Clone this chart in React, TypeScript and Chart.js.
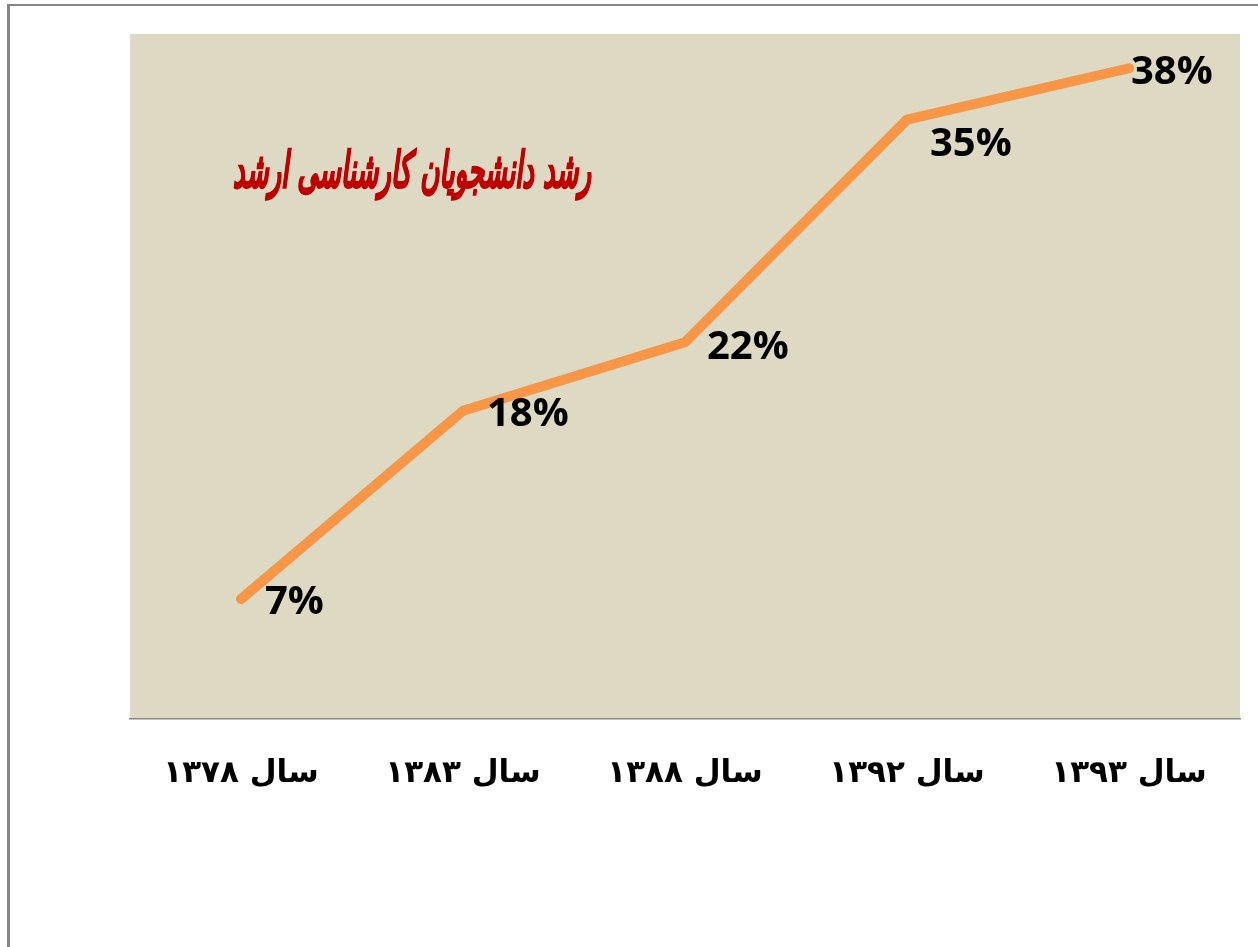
import React, { useEffect, useRef } from "react";
import { Chart, registerables } from "chart.js";

Chart.register(...registerables);

const categories = ["سال ۱۳۷۸", "سال ۱۳۸۳", "سال ۱۳۸۸", "سال ۱۳۹۲", "سال ۱۳۹۳"];
const values = [7, 18, 22, 35, 38];
const valueLabels = ["7%", "18%", "22%", "35%", "38%"];
const labelOffsets = [
  [24, 1],
  [24, 1],
  [22, 3],
  [23, 22],
  [2, 2],
];
const chartTitle = "رشد دانشجویان کارشناسی ارشد";

const bgPlugin = {
  id: "plotBg",
  beforeDraw(chart: any) {
    const { ctx, chartArea } = chart;
    ctx.save();
    ctx.fillStyle = "#DDD9C3";
    ctx.fillRect(chartArea.left, chartArea.top, chartArea.right - chartArea.left, chartArea.bottom - chartArea.top);
    ctx.restore();
  },
};

const labelsPlugin = {
  id: "valueLabels",
  afterDatasetsDraw(chart: any) {
    const { ctx, chartArea } = chart;
    const meta = chart.getDatasetMeta(0);
    ctx.save();
    ctx.font = "bold 40px 'Open Sans'";
    ctx.fillStyle = "#000000";
    ctx.textAlign = "left";
    ctx.textBaseline = "alphabetic";
    meta.data.forEach((pt: any, i: number) => {
      const [dx, dy] = labelOffsets[i];
      ctx.fillText(valueLabels[i], pt.x + dx, pt.y + dy + 14);
    });
    ctx.restore();
    // title inside plot
    ctx.save();
    ctx.translate(chartArea.left + 282, chartArea.top + 140);
    ctx.scale(1, 1.9);
    ctx.font = "italic bold 26px 'DejaVu Sans'";
    ctx.fillStyle = "#C00000";
    ctx.strokeStyle = "#C00000";
    ctx.lineWidth = 0.8;
    ctx.textAlign = "center";
    ctx.textBaseline = "middle";
    ctx.fillText(chartTitle, 0, 0);
    ctx.strokeText(chartTitle, 0, 0);
    ctx.restore();
  },
};

export default function App() {
  const ref = useRef<HTMLCanvasElement>(null);
  useEffect(() => {
    if (!ref.current) return;
    const chart = new Chart(ref.current, {
      type: "line",
      data: {
        labels: categories,
        datasets: [
          {
            data: values,
            borderColor: "#F79646",
            borderWidth: 10,
            borderCapStyle: "round",
            borderJoinStyle: "round",
            pointRadius: 0,
            tension: 0,
            fill: false,
          },
        ],
      },
      options: {
        animation: false,
        responsive: false,
        layout: { padding: { left: 130, right: 18, top: 34, bottom: 0 } },
        plugins: {
          legend: { display: false },
          tooltip: { enabled: false },
          title: { display: false },
        },
        scales: {
          x: {
            offset: true,
            grid: { display: false, drawTicks: false },
            border: { display: true, color: "#868686", width: 1.5 },
            ticks: {
              color: "#000000",
              font: { family: "'DejaVu Sans'", weight: "bold", size: 31 },
              padding: 36,
              maxRotation: 0,
              autoSkip: false,
            },
            afterFit(scale: any) {
              scale.height = 228;
            },
          },
          y: {
            display: false,
            min: 0,
            max: 40,
          },
        },
      },
      plugins: [bgPlugin, labelsPlugin],
    } as any);
    return () => chart.destroy();
  }, []);

  return (
    <div style={{ position: "fixed", left: 0, top: 0, width: 1258, height: 947, overflow: "hidden", background: "#ffffff" }}>
      <div
        style={{
          position: "absolute",
          left: 7,
          top: 4,
          width: 1300,
          height: 1000,
          borderLeft: "3px solid #858585",
          borderTop: "2px solid #858585",
        }}
      />
      <canvas
        ref={ref}
        width={1258}
        height={947}
        style={{ position: "absolute", left: 0, top: 0, width: 1258, height: 947 }}
      />
    </div>
  );
}
